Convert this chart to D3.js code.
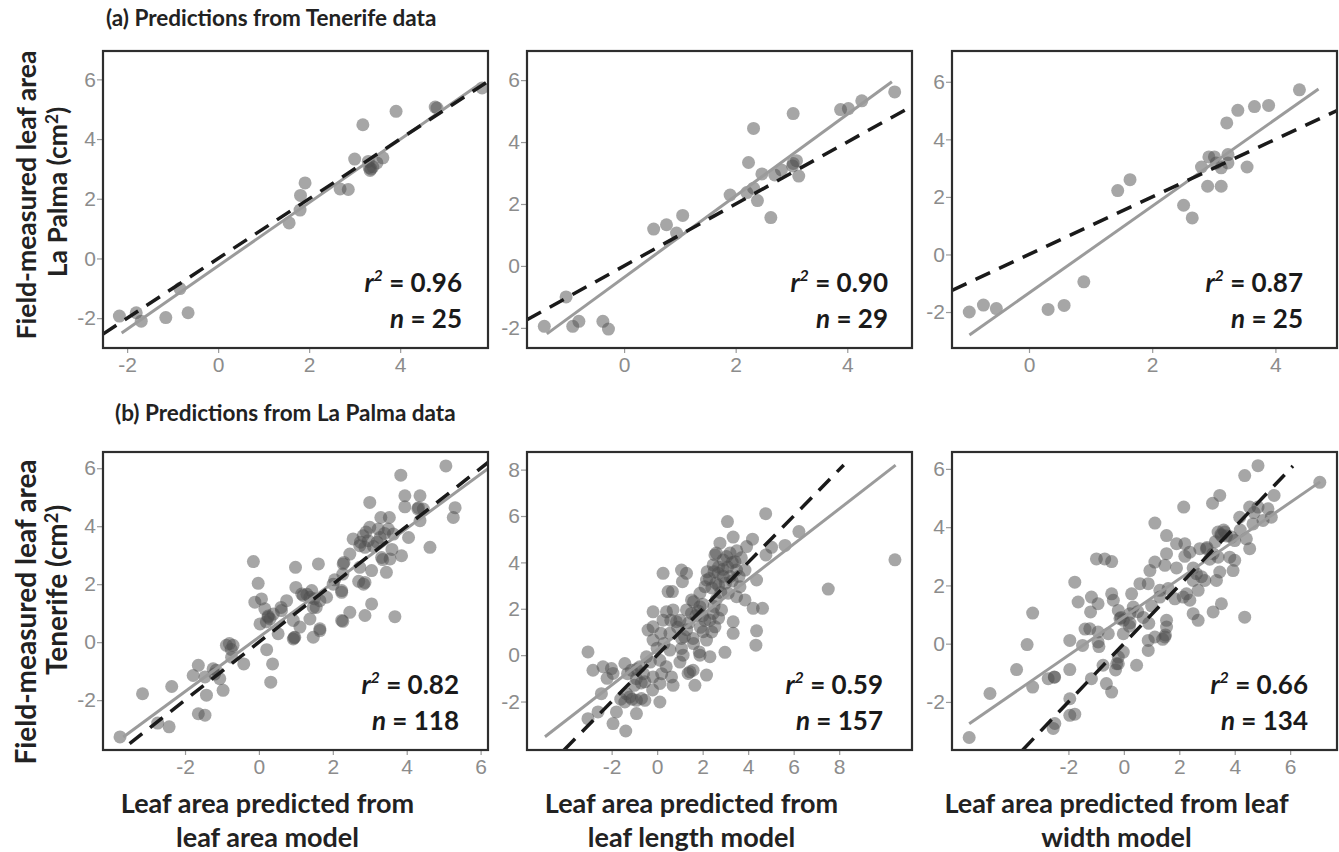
<!DOCTYPE html>
<html><head><meta charset="utf-8">
<script src="https://cdn.jsdelivr.net/npm/d3@7"></script>
<style>body{margin:0;background:#fff}svg{display:block}</style>
</head><body>
<svg id="chart" width="1339" height="852"></svg>
<script>
// ---------------- DATA ----------------
const a1Points = [[-2.17,-1.93],[-1.80,-1.82],[-1.69,-2.10],[-1.15,-1.98],[-0.84,-1.01],[-0.66,-1.82],[1.56,1.19],[1.80,1.62],[1.81,2.11],[1.91,2.53],[2.68,2.33],[2.86,2.31],[3.00,3.33],[3.18,4.48],[3.30,3.25],[3.34,2.95],[3.36,3.00],[3.40,3.07],[3.49,3.20],[3.62,3.37],[3.91,4.93],[4.77,5.07],[4.81,5.04],[5.80,5.71],[3.32,3.05]];
const a2Points = [[-1.43,-1.95],[-1.04,-1.00],[-0.92,-1.95],[-0.81,-1.79],[-0.38,-1.79],[-0.28,-2.04],[0.53,1.19],[0.76,1.33],[0.94,1.06],[1.05,1.63],[1.90,2.29],[2.23,3.34],[2.32,4.44],[2.32,2.51],[2.20,2.37],[2.39,2.11],[2.47,2.97],[2.63,1.56],[2.70,2.94],[2.82,3.10],[3.03,4.92],[3.03,3.31],[3.09,3.40],[3.13,2.90],[3.88,5.05],[4.02,5.08],[4.26,5.33],[4.85,5.62],[3.02,3.23]];
const a3Points = [[-0.97,-2.00],[-0.74,-1.76],[-0.53,-1.88],[0.31,-1.91],[0.57,-1.77],[0.89,-0.95],[1.44,2.22],[1.64,2.60],[2.51,1.71],[2.65,1.27],[2.80,3.04],[2.90,2.37],[2.92,3.39],[3.01,3.39],[3.12,2.37],[3.12,3.01],[3.21,4.57],[3.23,3.18],[3.23,3.47],[3.39,5.01],[3.54,3.04],[3.66,5.14],[3.89,5.18],[4.39,5.72],[3.04,3.18]];
const b1Points = [[5.06,6.08],[3.84,5.76],[3.95,5.05],[4.36,5.05],[5.31,4.64],[5.26,4.30],[3.00,4.82],[3.95,4.67],[4.32,4.64],[4.45,4.59],
[4.36,4.19],[4.63,3.27],[3.53,4.30],[3.50,3.90],[3.23,3.90],[3.00,3.96],[2.82,3.67],[2.55,3.56],[2.73,3.33],[2.96,3.50],
[3.28,3.61],[3.64,3.73],[4.05,3.61],[2.87,3.27],[3.32,2.92],[3.55,2.87],[3.86,2.98],[3.05,2.47],[3.45,2.41],[2.73,2.58],
[2.46,3.04],[2.28,2.70],[2.27,2.35],[2.87,2.06],[2.83,2.00],[2.24,1.78],[2.01,2.00],[1.83,1.55],[1.65,1.43],[1.43,1.78],
[1.61,2.70],[0.99,2.58],[1.00,1.89],[1.20,1.61],[1.38,1.55],[1.16,1.66],[1.47,1.20],[1.38,0.80],[1.65,0.46],[1.47,0.17],
[0.97,0.17],[0.93,0.11],[1.11,0.52],[0.93,0.75],[0.75,1.43],[0.61,1.09],[0.39,0.97],[0.25,0.86],[0.30,0.80],[0.03,0.63],
[0.52,0.29],[0.16,1.15],[-0.11,1.38],[0.07,1.49],[-0.02,2.03],[-0.15,2.78],[2.24,0.75],[2.46,1.03],[2.87,0.92],[3.05,1.32],
[3.68,0.88],[2.24,1.72],[-0.88,-0.11],[-0.70,-0.11],[-0.74,-0.52],[-0.41,-0.75],[0.21,-0.26],[0.37,-0.75],[0.32,-1.38],[-1.64,-0.80],
[-1.78,-1.15],[-1.46,-1.20],[-1.16,-0.97],[-1.06,-1.26],[-0.97,-1.66],[-1.42,-1.83],[-2.36,-1.53],[-3.15,-1.78],[-1.64,-2.47],[-1.46,-2.52],
[-3.76,-3.27],[-2.74,-2.79],[-2.43,-2.92],[-1.24,-0.92],[1.65,0.40],[2.27,0.72],[3.10,3.30],[3.40,3.75],[3.20,3.45],[3.35,2.85],
[2.75,3.45],[2.90,3.80],[3.30,4.30],[4.30,4.60],[2.30,2.75],[2.70,2.10],[0.25,0.90],[0.20,0.70],[1.30,1.65],[1.50,1.50],
[-0.80,-0.05],[-0.75,-0.25],[0.95,0.15],[1.55,1.20],[2.05,2.15],[0.60,1.20],[-1.20,-1.10],[3.60,3.20]];
const b2Points = [[4.77,6.10],[3.09,5.76],[6.23,5.33],[5.62,4.73],[5.03,4.65],[4.19,5.00],[3.34,5.09],[2.76,4.83],[3.93,4.68],[4.78,4.32],
[10.45,4.11],[7.52,2.85],[4.37,3.24],[4.22,2.02],[4.63,2.02],[4.37,1.05],[4.34,0.43],[3.34,1.44],[3.34,0.94],[2.98,0.12],
[2.54,4.32],[2.46,3.89],[3.05,4.25],[3.42,4.03],[2.68,3.53],[2.17,3.24],[2.10,2.95],[2.58,3.10],[3.20,3.39],[3.49,3.67],
[3.86,3.67],[3.64,2.95],[3.49,2.52],[3.86,2.38],[3.12,2.67],[1.88,2.67],[1.51,2.38],[1.29,1.95],[1.51,1.80],[1.88,2.09],
[2.46,1.80],[2.83,1.95],[2.32,1.51],[2.54,1.22],[2.02,1.01],[2.17,0.65],[2.32,-0.07],[1.85,0.14],[1.58,0.72],[1.07,0.72],
[1.07,0.29],[1.14,0.00],[0.56,0.22],[0.56,0.94],[0.85,1.44],[1.00,1.51],[0.70,1.95],[0.48,2.74],[0.67,2.74],[0.26,3.53],
[1.07,3.67],[1.29,3.53],[1.11,3.17],[-0.18,1.87],[0.41,1.87],[0.26,1.51],[-0.40,1.08],[-0.18,0.65],[-0.18,1.22],[0.16,0.94],
[-0.47,-0.07],[0.12,-0.22],[-3.04,0.14],[-2.82,-0.65],[-2.38,-0.50],[-1.94,-0.79],[-1.42,-0.36],[-1.13,-0.65],[-0.76,-0.50],[-0.91,-1.01],
[-0.54,-1.15],[-0.18,-0.94],[0.12,-1.22],[0.63,-0.94],[0.70,-1.30],[1.36,-0.79],[1.66,-1.30],[1.58,-0.65],[2.17,-0.86],[1.88,0.00],
[-2.45,-1.66],[-1.35,-1.66],[-1.20,-1.80],[-1.42,-2.02],[-0.91,-1.95],[-0.54,-1.95],[0.12,-2.02],[-1.79,-2.45],[-0.91,-2.52],[-2.60,-2.45],
[-3.04,-2.74],[-1.94,-2.95],[-1.38,-3.27],[-0.69,-1.87],[-2.01,-0.58],[1.44,-0.72],
[2.3,3.3],[2.5,3.6],[2.7,3.0],[2.9,3.4],[3.1,3.8],[2.4,2.9],[2.6,2.4],[2.8,2.7],[3.3,3.2],[2.2,3.6],
[2.0,2.2],[1.7,1.7],[1.9,1.2],[1.4,1.4],[1.6,0.5],[2.4,1.0],[2.7,1.6],[1.2,0.8],[0.9,1.2],[0.0,0.3],
[-0.3,-0.3],[-0.6,-0.8],[-1.0,-1.3],[-1.3,-0.8],[-0.2,-1.5],[0.4,-0.5],[1.0,-0.3],[3.5,4.5],[3.3,4.0],[2.9,4.1],
[2.6,4.4],[3.6,3.4],[1.8,1.9],[2.1,1.5],[-1.6,-1.9],[-2.2,-1.0],[0.3,0.5],[2.9,3.7],[3.0,3.1],[2.5,2.1],
[1.6,2.3],[1.3,1.1],[0.6,1.5],[-0.7,-1.2],[-1.1,-1.9],[0.2,-0.8],[3.2,4.4],[2.7,3.8],[3.7,4.2],[2.0,1.7],[-0.9,-0.6]];
const b3Points = [[4.84,6.11],[4.36,5.77],[7.07,5.54],[5.42,5.09],[3.46,5.09],[3.20,4.82],[2.16,4.69],[1.12,4.14],[1.54,3.71],[4.54,4.69],
[4.84,4.69],[5.20,4.63],[5.32,4.34],[4.18,4.34],[5.02,4.23],[4.66,4.11],[4.42,3.60],[4.54,3.26],[3.40,3.83],[3.64,3.83],
[3.52,3.71],[3.88,3.66],[4.00,3.54],[1.90,3.43],[2.20,3.43],[2.38,3.14],[2.74,3.26],[2.98,3.26],[3.22,3.09],[3.40,2.97],
[3.82,2.97],[4.00,2.86],[3.94,2.51],[3.46,2.46],[3.34,2.17],[2.92,2.17],[2.62,2.40],[2.50,2.17],[2.68,1.83],[2.26,1.71],
[1.84,1.54],[2.38,1.49],[1.54,3.09],[1.48,2.69],[1.12,2.80],[0.94,2.51],[0.58,2.06],[0.88,2.06],[1.30,1.83],[1.60,1.89],
[2.14,1.60],[2.50,1.03],[2.68,0.80],[3.22,1.09],[3.52,1.37],[4.36,0.91],[1.54,0.80],[1.54,0.57],[1.48,0.23],[1.12,0.23],
[0.88,-0.23],[0.46,-0.74],[-0.20,-0.69],[-0.02,-0.29],[-0.02,0.34],[-0.38,1.49],[-0.44,1.71],[-0.20,1.14],[0.22,1.03],[-0.02,0.80],
[0.28,1.71],[0.34,1.26],[-0.14,0.86],[-0.56,0.34],[-0.93,0.40],[-1.23,0.51],[-1.20,1.09],[-1.17,1.60],[-0.93,1.37],[-1.65,1.43],
[-1.77,2.11],[-0.99,2.91],[-0.69,2.91],[-0.44,2.82],[-1.49,-0.06],[-1.95,0.11],[-0.93,0.06],[-3.29,1.05],[-3.49,-0.03],[-3.87,-0.89],
[-1.95,-0.89],[-2.73,-1.20],[-2.51,-1.14],[-3.29,-1.49],[-4.83,-1.71],[-1.17,-1.20],[-0.75,-0.74],[-0.63,-1.37],[-0.44,-1.66],[-0.20,-0.46],
[-0.26,-0.69],[0.88,0.11],[-5.58,-3.22],[-1.95,-1.89],[-1.95,-2.46],[-1.77,-2.42],[-2.49,-2.74],[-2.55,-2.91],[1.40,0.15],[0.22,0.71],
[3.6,3.9],[3.5,3.75],[3.7,3.7],[3.3,3.5],[2.5,2.6],[2.8,2.3],[3.1,2.9],[1.9,2.6],[1.3,1.6],[1.0,1.3],
[0.7,0.9],[0.5,1.1],[0.2,0.6],[-0.1,0.9],[0.9,0.7],[1.5,0.3],[2.2,3.0],[3.0,3.3],[4.2,3.9],[-0.9,-0.1],
[-1.4,0.5],[-2.5,-1.15],[-0.3,-0.9],[4.7,4.5]];

const panelPoints = [a1Points, a2Points, a3Points, b1Points, b2Points, b3Points];
const r2Values = ["0.96","0.90","0.87","0.82","0.59","0.66"];
const nValues = ["25","29","25","118","157","134"];
const xDomains = [[-2.53,5.93],[-1.74,5.16],[-1.25,5.0],[-4.22,6.2],[-5.72,11.2],[-6.2,7.69]];
const yDomains = [[-3.0,6.95],[-2.65,6.94],[-3.25,7.07],[-3.72,6.56],[-4.09,8.76],[-3.65,6.58]];
const xTickValues = [[-2,0,2,4],[0,2,4],[0,2,4],[-2,0,2,4,6],[-2,0,2,4,6,8],[-2,0,2,4,6]];
const yTickValues = [[-2,0,2,4,6],[-2,0,2,4,6],[-2,0,2,4,6],[-2,0,2,4,6],[-2,0,2,4,6,8],[-2,0,2,4,6]];
// fitted regression (solid grey) lines: slope, intercept, x extent
const fitSlopes = [1.06, 1.316, 1.509, 0.938, 0.760, 0.656];
const fitIntercepts = [-0.25, -0.37, -1.34, 0.17, 0.227, 0.91];
const fitExtents = [[-2.12,5.75],[-1.385,4.80],[-0.967,4.70],[-3.67,6.2],[-4.93,10.48],[-5.58,7.08]];
// 1:1 (dashed) lines x extent
const oneToOneExtents = [[-2.53,5.93],[-1.74,5.16],[-1.25,5.0],[-3.5,6.2],[-4.1,8.2],[-3.65,6.1]];
const rowTitles = ["(a) Predictions from Tenerife data","(b) Predictions from La Palma data"];
const yLabelLines = [["Field-measured leaf area","La Palma (cm"],["Field-measured leaf area","Tenerife (cm"]];
const xLabelLines = [["Leaf area predicted from","leaf area model"],["Leaf area predicted from","leaf length model"],["Leaf area predicted from leaf","width model"]];

// ---------------- LAYOUT ----------------
const colX = [[103,488],[527,912],[952,1337]];
const rowY = [[51,348],[452,750]];
const statInset = [26,24,34,29,29,29];
const svg = d3.select("#chart");
const labelFont = "Lato, 'Open Sans', sans-serif";

panelPoints.forEach((pts,i)=>{
  const col=i%3,row=Math.floor(i/3);
  const [x0,x1]=colX[col],[y0,y1]=rowY[row];
  const x=d3.scaleLinear().domain(xDomains[i]).range([x0,x1]);
  const y=d3.scaleLinear().domain(yDomains[i]).range([y1,y0]);
  const g=svg.append("g");
  const cid="clip"+i;
  svg.append("clipPath").attr("id",cid).append("rect")
    .attr("x",x0).attr("y",y0).attr("width",x1-x0).attr("height",y1-y0);

  const xa=g.append("g").attr("transform",`translate(0,${y1})`)
    .call(d3.axisBottom(x).tickValues(xTickValues[i]).tickSize(5).tickPadding(4).tickFormat(d=>String(d)));
  const ya=g.append("g").attr("transform",`translate(${x0},0)`)
    .call(d3.axisLeft(y).tickValues(yTickValues[i]).tickSize(6).tickPadding(1).tickFormat(d=>String(d)));
  [xa,ya].forEach(a=>{
    a.select(".domain").remove();
    a.selectAll(".tick line").attr("stroke","#9a9a9a").attr("stroke-width",1.2);
    a.selectAll(".tick text").attr("fill","#8c8c8c").attr("font-size",21)
      .attr("font-family","'Liberation Sans', Arial, sans-serif");
  });

  g.append("g").selectAll("circle").data(pts).join("circle")
    .attr("cx",d=>x(d[0])).attr("cy",d=>y(d[1])).attr("r",6.5)
    .attr("fill","#4d4d4d").attr("fill-opacity",0.5);

  const lg=g.append("g").attr("clip-path",`url(#${cid})`);
  const fe=fitExtents[i];
  lg.append("line")
    .attr("x1",x(fe[0])).attr("y1",y(fitIntercepts[i]+fitSlopes[i]*fe[0]))
    .attr("x2",x(fe[1])).attr("y2",y(fitIntercepts[i]+fitSlopes[i]*fe[1]))
    .attr("stroke","#9b9b9b").attr("stroke-width",3);
  const oe=oneToOneExtents[i];
  lg.append("line")
    .attr("x1",x(oe[0])).attr("y1",y(oe[0])).attr("x2",x(oe[1])).attr("y2",y(oe[1]))
    .attr("stroke","#1a1a1a").attr("stroke-width",3.5).attr("stroke-dasharray","16,10");

  g.append("rect").attr("x",x0).attr("y",y0).attr("width",x1-x0).attr("height",y1-y0)
    .attr("fill","none").attr("stroke","#2e2e2e").attr("stroke-width",2.2);

  const t=g.append("text").attr("x",x1-statInset[i]).attr("y",y1-56).attr("text-anchor","end")
    .attr("font-family",labelFont).attr("font-weight","bold").attr("font-size",26).attr("fill","#1a1a1a");
  t.append("tspan").attr("font-style","italic").text("r");
  t.append("tspan").attr("font-style","italic").attr("font-size",16).attr("dy",-11).text("2");
  t.append("tspan").attr("dy",11).text(" = "+r2Values[i]);
  const tn=g.append("text").attr("x",x1-statInset[i]).attr("y",y1-20).attr("text-anchor","end")
    .attr("font-family",labelFont).attr("font-weight","bold").attr("font-size",26).attr("fill","#1a1a1a");
  tn.append("tspan").attr("font-style","italic").text("n");
  tn.append("tspan").text(" = "+nValues[i]);
});

// row titles
const titlePos = [[106,26],[115,421]];
rowTitles.forEach((s,r)=>{
  svg.append("text").attr("x",titlePos[r][0]).attr("y",titlePos[r][1])
    .attr("font-family",labelFont).attr("font-weight","bold").attr("font-size",22.5).attr("fill","#222").text(s);
});

// y labels (rotated, two lines)
const yLabelCenters = [[195,192],[612,590]];
const yLabelSizes = [26.5, 28];
yLabelLines.forEach((lines,r)=>{
  const fs=yLabelSizes[r];
  const g1=svg.append("g").attr("transform",`translate(0,${yLabelCenters[r][0]}) rotate(-90)`);
  g1.append("text").attr("x",0).attr("y",36).attr("text-anchor","middle")
    .attr("font-family",labelFont).attr("font-weight","bold").attr("font-size",fs).attr("fill","#222").text(lines[0]);
  const g2=svg.append("g").attr("transform",`translate(0,${yLabelCenters[r][1]}) rotate(-90)`);
  const t2=g2.append("text").attr("x",0).attr("y",67).attr("text-anchor","middle")
    .attr("font-family",labelFont).attr("font-weight","bold").attr("font-size",fs).attr("fill","#222");
  t2.append("tspan").text(lines[1]);
  t2.append("tspan").attr("font-size",fs*0.65).attr("dy",-9).text("2");
  t2.append("tspan").attr("dy",9).text(")");
});

// x labels
xLabelLines.forEach((lines,c)=>{
  const cx=(colX[c][0]+colX[c][1])/2-28;
  lines.forEach((s,k)=>{
    svg.append("text").attr("x",cx).attr("y",813+k*34).attr("text-anchor","middle")
      .attr("font-family",labelFont).attr("font-weight","bold").attr("font-size",27).attr("fill","#222").text(s);
  });
});
</script>
</body></html>
